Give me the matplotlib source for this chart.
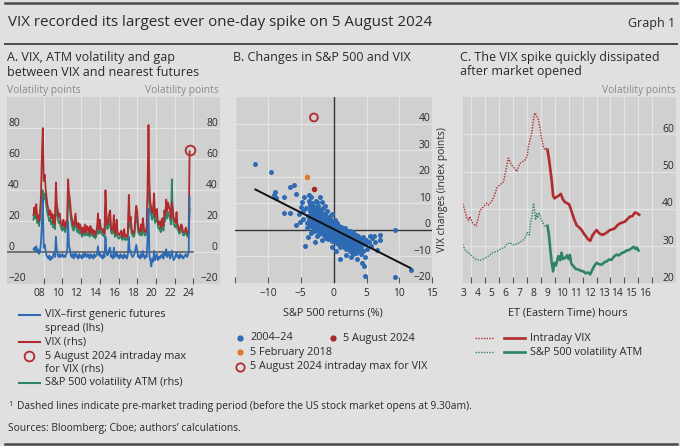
import numpy as np
import matplotlib.pyplot as plt
from matplotlib.lines import Line2D
from matplotlib import transforms

plt.rcParams['font.family'] = ['Open Sans', 'DejaVu Sans']

# ---------------- data ----------------
# Panel A: one reading roughly every 0.1 year, late 2007 to 5 Aug 2024
vix_close = [24,
             29, 25, 31, 22, 24, 20, 25, 36, 62, 80,
             46, 50, 41, 36, 30, 28, 24, 27, 22, 25,
             19, 24, 18, 45, 31, 27, 23, 25, 20, 18,
             17, 21, 18, 16, 20, 18, 47, 38, 34, 26,
             22, 18, 17, 21, 25, 18, 16, 19, 15, 18,
             15, 12, 16, 13, 18, 13, 17, 14, 16, 12,
             17, 13, 15, 12, 14, 11, 13, 16, 25, 15,
             21, 16, 15, 13, 15, 12, 40, 24, 18, 20,
             25, 27, 16, 14, 16, 24, 12, 14, 21, 12,
             12, 11, 13, 14, 10, 12, 15, 10, 11, 10,
             13, 37, 20, 23, 15, 13, 12, 14, 24, 30,
             26, 16, 15, 13, 18, 14, 22, 16, 14, 13,
             15, 40, 82, 44, 32, 29, 25, 28, 38, 23,
             26, 28, 20, 18, 20, 16, 21, 22, 17, 27,
             24, 34, 27, 32, 29, 27, 22, 32, 28, 22,
             21, 19, 26, 18, 17, 14, 15, 18, 17, 13,
             13, 14, 16, 13, 12, 14, 65]
atm_vol = [21,
           25, 22, 27, 19, 21, 17, 22, 31, 36, 40,
           34, 38, 33, 29, 25, 23, 20, 22, 18, 20,
           16, 20, 15, 33, 26, 22, 19, 20, 17, 15,
           14, 17, 15, 13, 16, 15, 35, 31, 28, 22,
           18, 15, 14, 17, 20, 15, 13, 15, 12, 15,
           12, 10, 13, 11, 14, 11, 13, 11, 13, 10,
           13, 11, 12, 10, 11, 9, 10, 13, 19, 12,
           16, 13, 12, 11, 12, 10, 30, 19, 15, 16,
           20, 21, 13, 12, 13, 18, 10, 11, 16, 10,
           9, 9, 10, 11, 8, 9, 11, 8, 9, 8,
           10, 28, 16, 18, 12, 11, 10, 11, 19, 24,
           21, 13, 12, 11, 14, 11, 17, 13, 11, 11,
           12, 31, 40, 35, 26, 24, 21, 23, 30, 19,
           21, 23, 17, 15, 16, 13, 17, 18, 14, 22,
           20, 28, 22, 26, 24, 22, 18, 47, 23, 18,
           17, 16, 21, 15, 14, 12, 13, 15, 14, 11,
           11, 12, 13, 11, 10, 12, 28]
vix_fut_gap = [2,
               3, 1, 4, 0, 2, -1, 1, 6, 18, 35,
               3, 5, 1, -2, -3, -4, -2, -5, -3, -4,
               -2, 0, -3, 10, 1, -2, -3, -1, -3, -2,
               -1, -3, -2, -3, -1, 0, 20, 4, 2, -2,
               -3, -1, -4, -2, 0, -3, -2, -4, -1, -3,
               -2, -4, -1, -3, 0, -2, -3, -1, -2, -4,
               -1, -3, -2, -4, -1, -3, -2, -1, 4, -2,
               0, -3, -2, -4, -1, -3, 10, 1, -2, -1,
               2, 3, -3, -2, -4, 3, -3, -2, 0, -3,
               -2, -4, -1, -3, -2, -4, -1, -3, -2, -4,
               -1, 10, 0, 1, -2, -3, -2, -1, 2, 5,
               1, -3, -2, -4, -1, -3, 1, -2, -4, -2,
               -3, 8, 28, -2, -5, -9, -4, -6, 1, -5,
               -3, -1, -5, -3, -4, -2, -3, -1, -4, 0,
               -2, 2, -3, 0, -1, -4, -2, 1, -3, -5,
               -4, -2, 0, -3, -2, -4, -1, -3, -2, -4,
               -3, -2, -1, -3, -2, 0, 36]
first_year, year_step = 2007.9, 0.1
aug5_date, aug5_vix_max = 2024.6, 65.7
year_ticks = [2009, 2011, 2013, 2015, 2017, 2019, 2021, 2023, 2025]
year_label_pos = [2008.5, 2010.5, 2012.5, 2014.5, 2016.5, 2018.5, 2020.5, 2022.5, 2024.5]
year_labels = ['08', '10', '12', '14', '16', '18', '20', '22', '24']

# Panel B: daily S&P 500 returns (%) vs VIX changes (index points), 2004-24
sp500_ret = [-4.1, -3.9, -4.2, -3.8, -4.0, -3.7, -3.5, -3.6, -3.4, -3.3, -3.2, -3.1, -3.3, -3.0, -3.5,
             -2.9, -2.8, -2.9, -2.7, -2.6, -2.5, -2.7, -2.4, -2.3, -2.2, -2.4, -2.1, -2.0, -2.2, -2.6,
             -1.9, -1.8, -1.9, -1.7, -1.6, -1.5, -1.6, -1.4, -1.5, -1.3, -1.2, -1.1, -1.3, -1.0, -1.2, -1.0, -1.8,
             -0.9, -0.8, -0.9, -0.7, -0.8, -0.6, -0.5, -0.4, -0.6, -0.3, -0.4, -0.2, -0.1, -0.2, -0.1, 0.0, -0.3,
             0.1, 0.2, 0.1, 0.3, 0.2, 0.4, 0.5, 0.4, 0.6, 0.5, 0.7, 0.8, 0.7, 0.9, 0.8, 1.0, 0.9,
             1.1, 1.2, 1.1, 1.3, 1.4, 1.3, 1.5, 1.6, 1.7, 1.6, 1.8, 1.7, 1.9, 2.0, 1.9, 2.0,
             2.1, 2.2, 2.3, 2.2, 2.4, 2.5, 2.6, 2.5, 2.7, 2.8, 2.9, 2.8, 3.0, 2.9, 3.0,
             3.1, 3.2, 3.3, 3.4, 3.5, 3.6, 3.7, 3.8, 3.9, 4.0, 4.1, 4.2, 4.3, 4.4, 4.5,
             4.7, 4.9, 5.1, 5.3, 5.5, 5.7, 5.9, 6.3, 6.6, 7.0, 7.1, 6.1, 4.8, 4.3, 4.6,
             3.6, 2.7, 1.9, 1.0, 0.4, -0.3, 9.4, 4.8, 9.4, 11.7,
             -12.0, -9.5, -8.9, -9.1, -8.8, -7.6, -6.6, -6.1, -5.8, -7.6, -6.7, -5.7, -5.3, -5.0,
             -4.8, -4.5, -4.4, -2.9, -4.6, -5.1, -4.7, -2.6, -1.3, -2.0, -3.8, -1.7, -3.9,
             -3.45, -3.45, -3.45, -3.45, -3.2, -3.2, -3.2, -3.2, -2.95, -2.95, -2.95, -2.95,
             -2.7, -2.7, -2.7, -2.7, -2.45, -2.45, -2.45, -2.45, -2.2, -2.2, -2.2, -2.2,
             -1.95, -1.95, -1.95, -1.95, -1.7, -1.7, -1.7, -1.7, -1.45, -1.45, -1.45, -1.45,
             -1.2, -1.2, -1.2, -1.2, -0.95, -0.95, -0.95, -0.95, -0.7, -0.7, -0.7, -0.7,
             -0.45, -0.45, -0.45, -0.45, -0.2, -0.2, -0.2, -0.2, 0.05, 0.05, 0.05, 0.05,
             0.3, 0.3, 0.3, 0.3, 0.55, 0.55, 0.55, 0.55, 0.8, 0.8, 0.8, 0.8,
             1.05, 1.05, 1.05, 1.05, 1.3, 1.3, 1.3, 1.3, 1.55, 1.55, 1.55, 1.55,
             1.8, 1.8, 1.8, 1.8, 2.05, 2.05, 2.05, 2.05, 2.3, 2.3, 2.3, 2.3,
             2.55, 2.55, 2.55, 2.55, 2.8, 2.8, 2.8, 2.8, 3.05, 3.05, 3.05, 3.05,
             3.3, 3.3, 3.3, 3.3, 3.55, 3.55, 3.55, 3.8, 3.8, 3.8,
             -3.6, -3.6, -3.6, -3.6, -3.1, -3.1, -3.1, -3.1, -2.55, -2.55, -2.55, -2.55,
             -2.05, -2.05, -2.05, -2.05, -1.55, -1.55, -1.55, -1.55, -1.05, -1.05, -1.05, -1.05,
             -0.55, -0.55, -0.55, -0.55, -0.05, -0.05, -0.05, -0.05, 0.45, 0.45, 0.45, 0.45,
             0.95, 0.95, 0.95, 0.95, 1.45, 1.45, 1.45, 1.45, 1.95, 1.95, 1.95, 1.95,
             2.45, 2.45, 2.45, 2.45, 2.95, 2.95, 2.95, 2.95, 3.45, 3.45, 3.45, 3.45,
             3.95, 3.95, 3.95]
vix_change = [2.5, 5.2, 8.1, 10.8, 0.8, 3.6, 6.4, 9.3, 12.2, 1.8, 4.6, 7.4, 10.1, -0.6, -1.2,
              2.8, 5.6, 8.6, 11.0, 0.9, 3.9, 6.7, 9.1, -1.4, 1.8, 4.8, 7.3, 5.5, 3.0, -2.2,
              -0.4, 1.6, 3.5, 6.3, 8.2, -1.8, 0.4, 2.6, 4.4, 5.9, -2.9, -0.8, 1.2, 3.3, 4.8, 7.0, 10.6,
              -3.4, -1.6, 0.3, 2.1, 3.9, 5.4, -2.6, -0.9, 0.8, 2.4, 3.6, -4.1, -1.9, -0.4, 1.3, 2.9, 5.8,
              -3.2, -1.2, 0.4, 1.9, 3.6, -4.6, -2.4, -0.6, 0.9, 2.6, -5.3, -3.3, -1.7, -0.2, 1.4, -4.4, -6.6,
              -2.4, -0.8, 0.9, -5.8, -3.6, -1.9, -0.4, -6.4, -4.5, -2.6, -1.1, 0.6, -7.3, -5.0, -3.2, -1.6,
              -0.3, -6.6, -4.1, -2.6, -1.0, -7.8, -5.4, -3.5, -2.1, -8.3, -6.1, -4.3, -2.8, -0.8, -9.2,
              -7.0, -5.1, -3.2, -8.6, -6.2, -4.4, -2.2, -7.6, -5.5, -3.6, -9.1, -6.6, -4.6, -2.7, -8.0,
              -5.5, -3.8, -7.1, -4.6, -2.4, -6.0, -3.1, -4.7, -7.4, -3.8, -1.9, -2.3, -10.1, -12.5, -13.6,
              -10.8, -10.2, -9.3, -11.0, -7.8, -6.3, 0.0, -17.5, -17.9, -15.2,
              24.9, 21.6, 14.4, 13.2, 12.1, 12.5, 16.3, 16.7, 13.5, 6.3, 6.5, 1.9, 6.1, 8.6,
              10.6, 12.3, -6.0, -4.6, 4.0, 3.0, 7.2, 10.6, 8.8, 12.5, 13.3, -4.0, -2.5,
              1.4, 3.7, 5.9, 8.2, 0.9, 3.1, 5.6, 7.7, 1.2, 3.4, 5.3, 7.0,
              0.2, 2.3, 4.4, 6.1, -0.3, 2.2, 4.0, 6.0, -0.6, 1.0, 3.9, 5.8,
              -0.9, 1.1, 2.6, 4.9, -1.1, 0.8, 2.9, 4.3, -1.2, 1.0, 2.0, 3.8,
              -1.6, 0.3, 2.2, 3.4, -1.8, -0.2, 1.3, 3.0, -2.3, 0.0, 1.6, 3.2,
              -2.0, -0.5, 1.8, 2.7, -2.7, -0.9, 0.6, 2.2, -2.8, -0.6, 0.9, 2.0,
              -3.1, -1.7, 0.2, 1.5, -3.6, -1.3, -0.1, 1.6, -4.0, -2.2, -0.6, 0.8,
              -4.2, -2.9, -1.3, 0.3, -4.7, -3.0, -0.9, 0.6, -5.0, -3.3, -1.9, -0.3,
              -5.3, -3.6, -2.4, -0.6, -5.8, -4.0, -2.2, -1.0, -6.2, -4.6, -3.1, -1.4,
              -6.5, -5.0, -2.9, -1.6, -6.9, -5.3, -3.3, -1.9, -7.3, -4.9, -3.7, -2.0,
              -7.0, -5.6, -4.2, -2.6, -7.4, -5.2, -3.3, -6.8, -4.3, -3.1,
              2.0, 4.4, 7.0, 9.8, 1.5, 3.9, 6.2, 8.9, 0.5, 2.9, 5.1, 7.9,
              -0.2, 2.0, 4.0, 6.9, -0.8, 1.4, 3.3, 5.2, -1.2, 0.8, 2.6, 4.2,
              -1.5, 0.2, 2.0, 3.4, -2.2, -0.3, 1.0, 2.5, -2.9, -1.0, 0.6, 1.9,
              -3.5, -1.8, -0.2, 1.1, -4.2, -2.4, -0.9, 0.4, -4.8, -3.0, -1.4, 0.0,
              -5.5, -3.8, -2.3, -0.6, -6.1, -4.5, -3.0, -1.2, -6.6, -5.0, -3.5, -1.9,
              -7.3, -5.6, -4.0]
feb2018_ret, feb2018_chg = -4.1, 20.0
aug2024_ret, aug2024_chg = -3.0, 15.2
aug2024_max_chg = 42.3
fit_ret = [-11.9, 11.7]
fit_chg = [15.2, -14.4]
ret_ticks = [-15, -10, -5, 0, 5, 10, 15]
ret_label_pos = [-10, -5, 0, 5, 10, 15]
ret_labels = ['\u221210', '\u22125', '0', '5', '10', '15']

# Panel C: 5 August 2024, ET hours
vix_pre_h = [3.44, 3.6, 3.73, 3.85, 3.95, 4.15, 4.39, 4.55, 4.68, 4.92, 5.15, 5.27, 5.51, 5.7,
             5.87, 6.11, 6.35, 6.55, 6.70, 6.94, 7.15, 7.30, 7.54, 7.89, 8.05, 8.13, 8.25, 8.37,
             8.48, 8.58, 8.7, 8.84, 8.95, 9.05, 9.2, 9.32, 9.42, 9.5]
vix_pre = [41.4, 39.5, 37.5, 36.9, 37.9, 36.1, 35.4, 37.5, 39.6, 40.5, 41.5, 41.0, 42.0, 43.5,
           45.5, 46.5, 47.2, 50.8, 53.6, 51.7, 50.8, 50.0, 52.2, 53.1, 54.0, 56.7, 58.5, 60.2,
           63.5, 65.7, 65.2, 64.0, 62.0, 59.4, 56.7, 55.8, 56.2, 55.8]
vix_open_h = [9.5, 9.6, 9.7, 9.8, 9.9, 10.0, 10.15, 10.3, 10.45, 10.6, 10.75, 10.9, 11.05, 11.2,
              11.4, 11.58, 11.75, 11.94, 12.1, 12.25, 12.4, 12.55, 12.7, 12.85, 13.0, 13.2,
              13.4, 13.6, 13.8, 13.96, 14.15, 14.32, 14.5, 14.68, 14.85, 15.04, 15.2, 15.39,
              15.55, 15.75, 15.9, 16.05]
vix_open = [55.8, 53.5, 50.5, 47.5, 43.5, 42.8, 43.2, 43.5, 44.0, 42.5, 41.8, 41.5, 41.2, 39.5,
            37.2, 35.6, 35.0, 34.3, 33.3, 32.6, 31.8, 31.4, 32.8, 33.6, 34.3, 33.4,
            33.0, 33.3, 33.8, 34.3, 34.5, 34.8, 35.6, 36.1, 36.3, 36.6, 37.2, 37.9,
            38.0, 39.0, 38.8, 38.4]
atm_pre_h = [3.44, 3.6, 3.73, 3.9, 4.08, 4.25, 4.44, 4.7, 4.92, 5.15, 5.39, 5.6, 5.87, 6.11,
             6.3, 6.46, 6.6, 6.82, 7.06, 7.25, 7.42, 7.6, 7.77, 7.95, 8.06, 8.2, 8.3, 8.4,
             8.5, 8.57, 8.65, 8.72, 8.8, 8.9, 8.96, 9.05, 9.2, 9.3, 9.44, 9.5]
atm_pre = [30.5, 29.0, 28.5, 28.0, 27.4, 26.8, 26.3, 26.2, 26.5, 27.0, 27.6, 28.3, 28.5, 29.1,
           29.5, 29.8, 30.5, 30.9, 30.3, 30.5, 30.7, 31.2, 31.6, 32.5, 33.6, 33.0, 36.5, 38.0,
           41.5, 40.0, 37.0, 38.7, 37.5, 39.0, 38.5, 37.0, 36.0, 35.2, 35.6, 35.4]
atm_open_h = [9.5, 9.6, 9.7, 9.8, 9.9, 10.0, 10.1, 10.27, 10.4, 10.5, 10.6, 10.75, 10.9, 11.0,
              11.1, 11.2, 11.35, 11.5, 11.7, 11.85, 12.06, 12.2, 12.4, 12.55, 12.65, 12.8,
              13.0, 13.2, 13.37, 13.55, 13.73, 13.9, 14.08, 14.25, 14.44, 14.6, 14.8, 14.95,
              15.15, 15.3, 15.51, 15.65, 15.8, 15.87, 16.0]
atm_open = [35.4, 33.0, 29.0, 25.5, 23.2, 25.5, 24.8, 27.3, 26.2, 28.2, 26.5, 26.8, 27.5, 26.5,
            27.6, 25.2, 24.6, 23.9, 23.7, 23.4, 23.2, 22.7, 22.9, 22.4, 23.2, 24.4,
            25.5, 25.1, 25.0, 25.6, 25.9, 26.4, 26.3, 27.2, 27.7, 27.5, 28.1, 28.3,
            28.8, 28.9, 29.4, 29.8, 29.2, 29.6, 28.8]
hour_ticks = list(range(4, 18))
hour_label_pos = [h + 0.5 for h in range(3, 17)]
hour_labels = [str(h) for h in range(3, 17)]

# ---------------- style ----------------
page = '#e0e0e0'
plot_bg = '#d0d0d0'
grid_c = '#e4e4e4'
ink = '#2a2a2a'
soft = '#8a8a8a'
red = '#b02a2e'
green = '#2f8464'
blue = '#2e6bb3'
orange = '#e07a2c'
darkred = '#a8262a'
TICK = 7.4
LEG = 7.8

W, H = 680, 446
fig = plt.figure(figsize=(W / 100, H / 100), dpi=100, facecolor=page)


def fx(x):
    return x / W


def fy(y):
    return 1 - y / H


def rule(y, lw=1.8):
    fig.add_artist(Line2D([fx(5), fx(677)], [fy(y), fy(y)], color='#4a4a4a', lw=lw))


def ftext(x, y, s, size, **kw):
    kw.setdefault('color', ink)
    kw.setdefault('va', 'center')
    fig.text(fx(x), fy(y), s, fontsize=size, **kw)


def panel_axes(left, top, right, bottom):
    ax = fig.add_axes([fx(left), fy(bottom), (right - left) / W, (bottom - top) / H])
    ax.set_facecolor(plot_bg)
    for sp in ax.spines.values():
        sp.set_visible(False)
    ax.set_axisbelow(True)
    ax.grid(True, which='major', color=grid_c, lw=0.9)
    ax.tick_params(axis='y', length=0, labelleft=False, labelright=False)
    ax.tick_params(axis='x', direction='in', length=4, width=0.8,
                   color='#555555', labelbottom=False)
    return ax


def xlabels(ax, positions, labels, y=294):
    tr = transforms.blended_transform_factory(ax.transData, fig.transFigure)
    for p, lab in zip(positions, labels):
        ax.text(p, fy(y), lab, transform=tr, ha='center', va='center',
                fontsize=TICK, color=ink, clip_on=False)


def ylabels(ax, values, xpos, ha):
    tr = transforms.offset_copy(ax.get_yaxis_transform(), fig=fig, x=0, y=2.5, units='dots')
    for v in values:
        lab = str(v).replace('-', '\u2212')
        ax.text(xpos, v, lab, transform=tr, ha=ha, va='baseline', fontsize=TICK, color=ink)


# header
rule(3)
ftext(8, 23, 'VIX recorded its largest ever one-day spike on 5 August 2024', 10.9)
ftext(675, 24, 'Graph 1', 9.0, ha='right')
rule(44, lw=1.4)
rule(444, lw=1.8)

# ---------------- panel A ----------------
axA = panel_axes(7, 97, 220, 283.5)
years = first_year + year_step * np.arange(len(vix_close))
axA.set_xlim(2005.07, 2027.85)
axA.set_ylim(-20, 100)
axA.set_xticks(year_ticks)
axA.set_yticks([-20, 0, 20, 40, 60, 80])
x0, x1 = axA.get_xlim()
axA.axhline(0, xmax=(year_ticks[-1] - x0) / (x1 - x0), color='#555555', lw=1.1, zorder=1.5)
axA.plot(years, atm_vol, color=green, lw=1.3, zorder=2)
axA.plot(years, vix_close, color=red, lw=1.3, zorder=2.1)
axA.plot(years, vix_fut_gap, color=blue, lw=1.3, zorder=2.2)
axA.plot([aug5_date], [aug5_vix_max], marker='o', ms=7, mfc='none', mec=red, mew=1.3, zorder=3)
ylabels(axA, [-20, 0, 20, 40, 60, 80], 0.006, 'left')
ylabels(axA, [-20, 0, 20, 40, 60, 80], 0.99, 'right')
xlabels(axA, year_label_pos, year_labels)

ftext(7, 57, 'A. VIX, ATM volatility and gap', 9.0)
ftext(7, 72, 'between VIX and nearest futures', 9.0)
ftext(7, 90, 'Volatility points', TICK, color=soft)
ftext(219, 90, 'Volatility points', TICK, color=soft, ha='right')

# legend A
fig.add_artist(Line2D([fx(19), fx(40)], [fy(315), fy(315)], color=blue, lw=1.5))
ftext(45, 315, 'VIX\u2013first generic futures', LEG)
ftext(45, 328, 'spread (lhs)', LEG)
fig.add_artist(Line2D([fx(19), fx(40)], [fy(342), fy(342)], color=red, lw=1.5))
ftext(45, 342, 'VIX (rhs)', LEG)
fig.add_artist(Line2D([fx(29)], [fy(356)], marker='o', ms=7, mfc='none', mec=red, mew=1.3))
ftext(45, 356, '5 August 2024 intraday max', LEG)
ftext(45, 369, 'for VIX (rhs)', LEG)
fig.add_artist(Line2D([fx(19), fx(40)], [fy(383), fy(383)], color=green, lw=1.5))
ftext(45, 383, 'S&P 500 volatility ATM (rhs)', LEG)

# ---------------- panel B ----------------
axB = panel_axes(235, 97, 432.3, 283)
axB.set_xlim(-15, 15)
axB.set_ylim(-20, 50)
axB.set_xticks(ret_ticks)
axB.set_yticks([-20, -10, 0, 10, 20, 30, 40])
axB.axhline(0, color='#333333', lw=1.0, zorder=1.5)
axB.axvline(0, color='#333333', lw=1.0, zorder=1.5)
axB.scatter(sp500_ret, vix_change, s=13, color=blue, linewidths=0, zorder=2)
axB.plot(fit_ret, fit_chg, color='#111111', lw=1.4, zorder=3)
axB.scatter([feb2018_ret], [feb2018_chg], s=16, color=orange, linewidths=0, zorder=4)
axB.scatter([aug2024_ret], [aug2024_chg], s=16, color=darkred, linewidths=0, zorder=4)
axB.scatter([aug2024_ret], [aug2024_max_chg], s=32, facecolors='none', edgecolors=red,
            linewidths=1.3, zorder=4)
ylabels(axB, [-20, -10, 0, 10, 20, 30, 40], 0.992, 'right')
xlabels(axB, ret_label_pos, ret_labels)
ftext(333, 313, 'S&P 500 returns (%)', LEG, ha='center')
fig.text(fx(442), fy(190), 'VIX changes (index points)', rotation=90, fontsize=TICK,
         color=ink, ha='center', va='center')
ftext(233, 57, 'B. Changes in S&P 500 and VIX', 9.0)

# legend B
for (mx, my, kw, lab) in [(240, 338, dict(mfc=blue, mec=blue), '2004\u201324'),
                          (333, 338, dict(mfc=darkred, mec=darkred), '5 August 2024'),
                          (240, 352, dict(mfc=orange, mec=orange), '5 February 2018'),
                          (240, 367, dict(mfc='none', mec=red, mew=1.3), '5 August 2024 intraday max for VIX')]:
    ms = 6 if kw['mfc'] == 'none' else 3.5
    fig.add_artist(Line2D([fx(mx)], [fy(my)], marker='o', ms=ms, **kw))
    ftext(mx + 10, my, lab, LEG)

# ---------------- panel C ----------------
axC = panel_axes(462.7, 97, 676, 283.3)
axC.set_xlim(3.44, 18.68)
axC.set_ylim(20, 70)
axC.set_xticks(hour_ticks)
axC.set_yticks([30, 40, 50, 60])
axC.plot(vix_pre_h, vix_pre, color=red, lw=1.0, ls=(0, (1, 1)), zorder=2)
axC.plot(atm_pre_h, atm_pre, color=green, lw=1.0, ls=(0, (1, 1)), zorder=2)
axC.plot(vix_open_h, vix_open, color=red, lw=1.9, zorder=3)
axC.plot(atm_open_h, atm_open, color=green, lw=1.9, zorder=3)
ylabels(axC, [20, 30, 40, 50, 60], 0.99, 'right')
xlabels(axC, hour_label_pos, hour_labels)
ftext(568, 313, 'ET (Eastern Time) hours', LEG, ha='center')
ftext(460, 57, 'C. The VIX spike quickly dissipated', 9.0)
ftext(460, 72, 'after market opened', 9.0)
ftext(676, 90, 'Volatility points', TICK, color=soft, ha='right')

# legend C
for my, col, lab in [(338, red, 'Intraday VIX'), (352, green, 'S&P 500 volatility ATM')]:
    fig.add_artist(Line2D([fx(475), fx(494)], [fy(my), fy(my)], color=col, lw=1.0, ls=(0, (1, 1))))
    fig.add_artist(Line2D([fx(504), fx(525)], [fy(my), fy(my)], color=col, lw=1.9))
    ftext(530, my, lab, LEG)

# footnotes
ftext(8, 405, '1', 5.2)
ftext(17, 407, 'Dashed lines indicate pre-market trading period (before the US stock market opens at 9.30am).', 7.4)
ftext(8, 429, 'Sources: Bloomberg; Cboe; authors\u2019 calculations.', 7.4)

fig.savefig('out.png', dpi=100, facecolor=page)
